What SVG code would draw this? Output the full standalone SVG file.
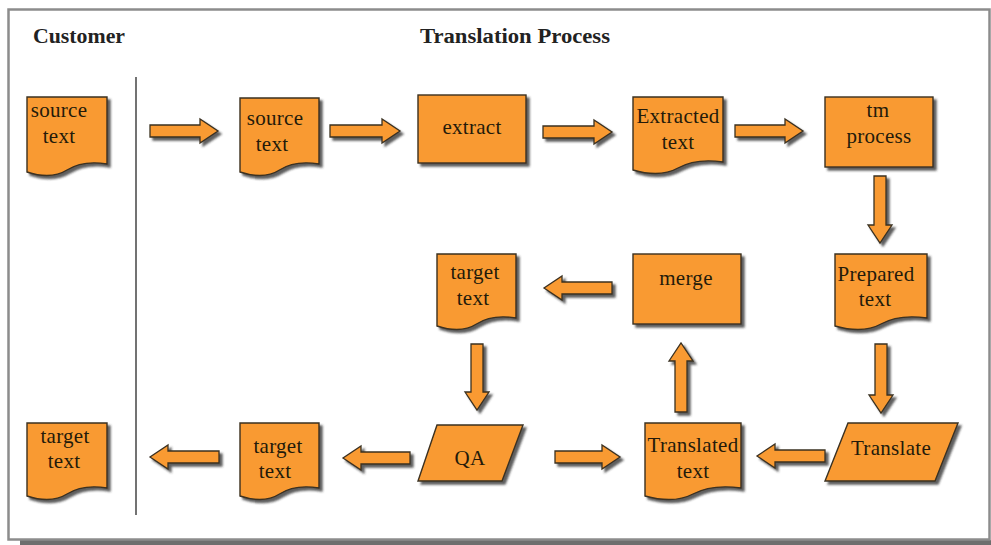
<svg xmlns="http://www.w3.org/2000/svg" width="991" height="545" viewBox="0 0 991 545">
  <defs>
    <filter id="shadow" x="-20%" y="-20%" width="150%" height="150%">
      <feDropShadow dx="3" dy="3" stdDeviation="1" flood-color="#2a2a2a" flood-opacity="0.75"/>
    </filter>
    <style>
      .shape { fill: #F99A32; stroke: #3a3020; stroke-width: 1.4; filter: url(#shadow); }
      .arrow { fill: #F99A32; stroke: #3a3020; stroke-width: 1.3; filter: url(#shadow); }
      .label { font-family: "Liberation Serif", "Times New Roman", serif; font-size: 21px; letter-spacing: 0.3px; fill: #241a0a; text-anchor: middle; }
      .title { font-family: "Liberation Serif", "Times New Roman", serif; font-size: 20px; font-weight: bold; fill: #222; }
    </style>
  </defs>

  <!-- page frame -->
  <rect x="0" y="0" width="991" height="545" fill="#ffffff"/>
  <rect x="20" y="540" width="971" height="5" fill="#6e6e6e"/>
  <rect x="8.5" y="9.5" width="981" height="530" fill="#ffffff" stroke="#8c8c8c" stroke-width="2.5"/>

  <!-- swimlane headings and divider -->
  <text class="title" x="33" y="43" textLength="92" lengthAdjust="spacingAndGlyphs">Customer</text>
  <text class="title" x="420" y="43" textLength="190" lengthAdjust="spacingAndGlyphs">Translation Process</text>
  <line x1="136" y1="77" x2="136" y2="515" stroke="#444" stroke-width="1.5"/>

  <!-- connectors: block arrows -->
  <g id="connectors">
    <path class="arrow" d="M150,125 H200 V119 L218,131 L200,143 V137 H150 Z"/>
    <path class="arrow" d="M330,125 H382 V119 L400,131 L382,143 V137 H330 Z"/>
    <path class="arrow" d="M543,126 H594 V120 L612,132 L594,144 V138 H543 Z"/>
    <path class="arrow" d="M735,125 H785 V119 L803,131 L785,143 V137 H735 Z"/>
    <path class="arrow" d="M874,176 V225 H868 L880,243 L892,225 H886 V176 Z"/>
    <path class="arrow" d="M875,344 V395 H869 L881,413 L893,395 H887 V344 Z"/>
    <path class="arrow" d="M612,282 H562 V276 L544,288 L562,300 V294 H612 Z"/>
    <path class="arrow" d="M675,412 V361 H669 L681,343 L693,361 H687 V412 Z"/>
    <path class="arrow" d="M471,344 V392 H465 L477,410 L489,392 H483 V344 Z"/>
    <path class="arrow" d="M825,450 H775 V444 L757,456 L775,468 V462 H825 Z"/>
    <path class="arrow" d="M555,451 H602 V445 L620,457 L602,469 V463 H555 Z"/>
    <path class="arrow" d="M410,452 H361 V446 L343,458 L361,470 V464 H410 Z"/>
    <path class="arrow" d="M219,451 H168 V445 L150,457 L168,469 V463 H219 Z"/>
  </g>

  <!-- customer lane -->
  <g id="customer-source">
    <path class="shape" d="M27,97 H107 V164 Q83,160 67,170 T27,172 Z"/>
    <text class="label" x="59" y="117">source</text>
    <text class="label" x="59" y="143">text</text>
  </g>
  <g id="customer-target">
    <path class="shape" d="M27,423 H107 V488 Q83,484 67,494 T27,496 Z"/>
    <text class="label" x="65" y="443">target</text>
    <text class="label" x="64" y="468">text</text>
  </g>

  <!-- translation process lane -->
  <g id="source-text">
    <path class="shape" d="M240,98 H319 V164 Q295,160 279.5,170 T240,172 Z"/>
    <text class="label" x="275" y="125">source</text>
    <text class="label" x="272" y="151">text</text>
  </g>
  <g id="extract">
    <rect class="shape" x="418" y="95" width="108" height="68"/>
    <text class="label" x="472" y="134">extract</text>
  </g>
  <g id="extracted-text">
    <path class="shape" d="M633,97 H723 V162 Q696,158 678,168 T633,170 Z"/>
    <text class="label" x="678" y="123">Extracted</text>
    <text class="label" x="678" y="149">text</text>
  </g>
  <g id="tm-process">
    <rect class="shape" x="825" y="97" width="108" height="70"/>
    <text class="label" x="878" y="117">tm</text>
    <text class="label" x="879" y="143">process</text>
  </g>
  <g id="prepared-text">
    <path class="shape" d="M835,254 H927 V318 Q899,314 881,324 T835,326 Z"/>
    <text class="label" x="876" y="281">Prepared</text>
    <text class="label" x="875" y="306">text</text>
  </g>
  <g id="merge">
    <rect class="shape" x="633" y="254" width="108" height="70"/>
    <text class="label" x="686" y="285">merge</text>
  </g>
  <g id="target-text-review">
    <path class="shape" d="M437,254 H516 V318 Q492,314 476.5,324 T437,326 Z"/>
    <text class="label" x="475" y="279">target</text>
    <text class="label" x="473" y="305">text</text>
  </g>
  <g id="translate">
    <path class="shape" d="M848,423 H958 L935,481 H825 Z"/>
    <text class="label" x="891" y="455">Translate</text>
  </g>
  <g id="translated-text">
    <path class="shape" d="M645,423 H741 V488 Q712,484 693,494 T645,496 Z"/>
    <text class="label" x="693" y="452">Translated</text>
    <text class="label" x="693" y="478">text</text>
  </g>
  <g id="qa">
    <path class="shape" d="M437,425 H523 L502,481 H418 Z"/>
    <text class="label" x="470" y="465">QA</text>
  </g>
  <g id="target-text">
    <path class="shape" d="M240,423 H319 V488 Q295,484 279.5,494 T240,496 Z"/>
    <text class="label" x="278" y="453">target</text>
    <text class="label" x="275" y="478">text</text>
  </g>
</svg>
